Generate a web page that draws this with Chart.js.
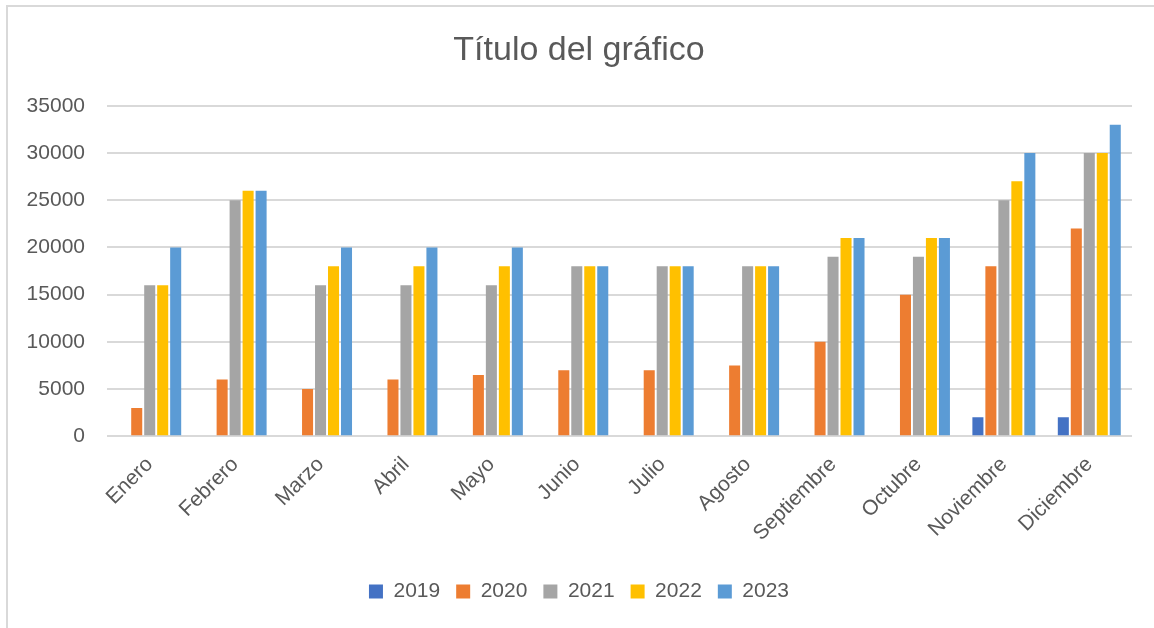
<!DOCTYPE html>
<html>
<head>
<meta charset="utf-8">
<script src="https://cdn.jsdelivr.net/npm/chart.js@4/dist/chart.umd.min.js"></script>
<style>
  html, body { margin: 0; padding: 0; background: #fff; overflow: hidden; }
  #frame {
    position: absolute; left: 6px; top: 5px;
    width: 1146px; height: 621px;
    border-top: 2px solid #d9d9d9;
    border-left: 2px solid #d9d9d9;
  }
  canvas { display: block; }
</style>
</head>
<body>
<div id="frame"><canvas id="chart_meses" width="1146" height="621"></canvas></div>
<script>
// ---------- datos ----------
const meses = ['Enero','Febrero','Marzo','Abril','Mayo','Junio','Julio','Agosto','Septiembre','Octubre','Noviembre','Diciembre'];
const años = ['2019','2020','2021','2022','2023'];
const v2019 = [0, 0, 0, 0, 0, 0, 0, 0, 0, 0, 2000, 2000];
const v2020 = [3000, 6000, 5000, 6000, 6500, 7000, 7000, 7500, 10000, 15000, 18000, 22000];
const v2021 = [16000, 25000, 16000, 16000, 16000, 18000, 18000, 18000, 19000, 19000, 25000, 30000];
const v2022 = [16000, 26000, 18000, 18000, 18000, 18000, 18000, 18000, 21000, 21000, 27000, 30000];
const v2023 = [20000, 26000, 20000, 20000, 20000, 18000, 18000, 18000, 21000, 21000, 30000, 33000];
const colores = ['#4472C4', '#ED7D31', '#A5A5A5', '#FFC000', '#5B9BD5'];

const series = [v2019, v2020, v2021, v2022, v2023];
const FONT = 'Liberation Sans, Arial, sans-serif';
const GRIS = '#595959';

new Chart(document.getElementById('chart_meses'), {
  type: 'bar',
  data: {
    labels: meses,
    datasets: años.map((a, i) => ({
      label: a,
      data: series[i],
      backgroundColor: colores[i],
      borderWidth: 0,
      categoryPercentage: 0.76,
      barPercentage: 0.85
    }))
  },
  options: {
    responsive: false,
    animation: false,
    layout: { padding: { left: 18, right: 22, top: 0, bottom: 16 } },
    plugins: {
      title: {
        display: true,
        text: 'Título del gráfico',
        color: GRIS,
        font: { family: FONT, size: 34, weight: 'normal' },
        padding: { top: 23, bottom: 35 }
      },
      legend: {
        position: 'bottom',
        // titulo vacio solo para bajar la leyenda
        title: { display: true, text: ' ', color: 'rgba(0,0,0,0)', font: { size: 10, lineHeight: 1 }, padding: { top: 1, bottom: 0 } },
        labels: {
          color: GRIS,
          font: { family: FONT, size: 21 },
          boxWidth: 14,
          boxHeight: 14,
          padding: 16
        }
      },
      tooltip: { enabled: false }
    },
    scales: {
      x: {
        grid: { display: false },
        border: { display: false },
        ticks: {
          color: GRIS,
          font: { family: FONT, size: 21 },
          maxRotation: 45,
          minRotation: 45,
          padding: 8
        }
      },
      y: {
        min: 0,
        max: 35000,
        border: { display: false },
        grid: { color: '#d9d9d9', lineWidth: 2, drawTicks: false },
        afterFit: (scale) => { scale.width = 81; },
        ticks: {
          stepSize: 5000,
          color: GRIS,
          font: { family: FONT, size: 21 },
          padding: 22,
          callback: (v) => String(v)
        }
      }
    }
  }
});
</script>
</body>
</html>
